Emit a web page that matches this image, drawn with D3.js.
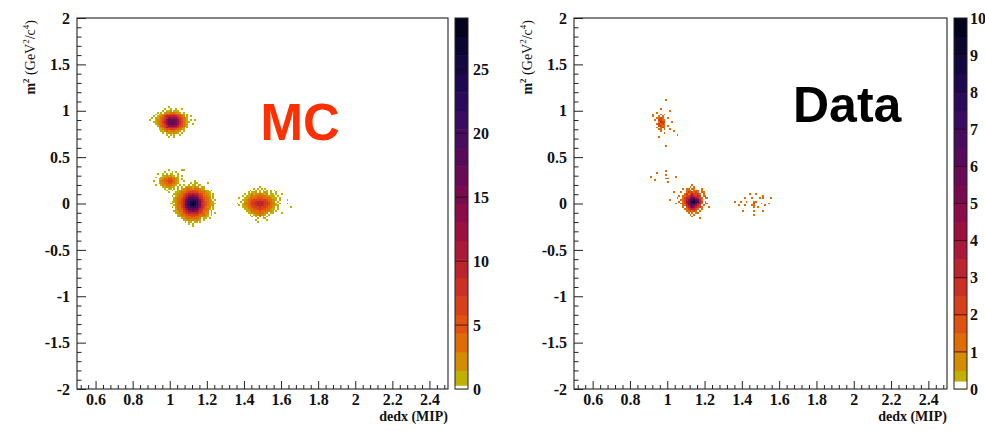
<!DOCTYPE html>
<html>
<head>
<meta charset="utf-8">
<script src="https://cdn.jsdelivr.net/npm/d3@7"></script>
<style>
body { margin: 0; background: #fff; }
svg { display: block; }
</style>
</head>
<body>
<script>
// axis ticks
var xTicks = [0.6, 0.8, 1, 1.2, 1.4, 1.6, 1.8, 2, 2.2, 2.4];
var yTicks = [-2, -1.5, -1, -0.5, 0, 0.5, 1, 1.5, 2];
var mcZTicks = [0, 5, 10, 15, 20, 25];
var dataZTicks = [0, 1, 2, 3, 4, 5, 6, 7, 8, 9, 10];
var mcZMax = 29;
var dataZMax = 10;

// bin size: dedx (MIP) x m2 (GeV2/c4)
var binW = 0.01, binH = 0.02;

// counts per bin, one char per bin (base 36, "." = empty), rows top -> bottom
// origin = [dedx of first column, m2 of top edge of first row]
var mcProtonOrigin = [0.89, 1.05];
var mcProtonRows = [
    "..... ..... 1.... ..... .....",
    "..... ...1. .1..1 ..1.. .....",
    "..... ..1.1 12.11 1.... .....",
    "....1 .1.22 23432 21.1. .....",
    "...1. 11245 56665 4321. 1....",
    "..1.1 12469 9a9a9 7532. 1.1..",
    ".1.11 2357a cdddc a7532 1....",
    "1..12 2358c ghhgf c8532 1.1.1",
    "..112 3469d hhjgf d9642 11...",
    "...12 2358c fgigf c8532 1..1.",
    "....1 2357a cdedc a7532 1....",
    "..... 12469 99a99 7532. 1....",
    "..... 11245 56665 4321. .....",
    "..... .1123 24342 21.1. .....",
    "..... ..1.1 22122 1.1.. .....",
    "..... ....1 .1.1. .1... .....",
    "..... ..... 1..1. ..... ....."
];
var mcKaonOrigin = [0.91, 0.37];
var mcKaonRows = [
    "..... ...1. ..... 11.",
    "..... .1... 1.1.. ...",
    "..1.. 1.1.1 1..1. ...",
    "..... 11212 11.1. 1..",
    ".1..1 12233 2211. ...",
    "...11 23455 4321. 1..",
    "1..12 34566 5321. .1.",
    "...12 23455 4321. ...",
    ".1..1 22343 221.1 ...",
    "..... 11222 11.1. ...",
    "..... .1.11 .1... ...",
    "..... ..1.. 1.... ...",
    "..... ...1. ..... ..."
];
var mcPionOrigin = [1.00, 0.25];
var mcPionRows = [
    "..... ..... ...1. ..... .....",
    "..... ..... .1.11 ..... 1....",
    "..... ..1.. 1.11. 11... .....",
    "..... .1.12 22122 2.11. .....",
    "....1 .1223 33243 3221. .....",
    "....1 12234 45654 43221 1.1..",
    "...11 23345 67776 54332 11...",
    "..112 23568 9aba9 86532 21.1.",
    ".1.12 3468a cefec a8643 21.1.",
    "..123 458ad ghihg da854 32.1.",
    "..123 469cg jlmlj gc964 321.1",
    ".1123 57aeh lpqpl hea75 3211.",
    "11.23 57aei mqtqm iea75 32111",
    "..123 47afh lpspl hfa75 3212.",
    ".1.23 479cg jlnlj gc964 22.1.",
    "...13 358ad ghihg da854 31.1.",
    "..112 3469a cefec a8643 2.1..",
    "...12 23568 9aaa9 86532 2.1.1",
    "....1 23345 67776 54332 1.1..",
    "....1 12234 45554 43221 1....",
    "..... .1223 33333 32.11 .1...",
    "..... ..112 22222 21.1. .....",
    "..... ...1. 11.11 .1... .....",
    "..... ..... 1.1.. ..... .....",
    "..... ..... ..1.. ..... ....."
];
var mcElectronOrigin = [1.36, 0.19];
var mcElectronRows = [
    "..... ..... ..1.. ..... ..... .....",
    "..... ....1 .1.1. 1.... ..... .....",
    "..... ..1.. 1.1.1 .1.1. 1.... .....",
    "..... .1.11 2.1.1 21.1. .1... .....",
    "....1 .1121 22322 12.11 .1..1 .....",
    "...1. 11232 34343 32211 1.1.. .....",
    ".1..1 12334 45554 43321 11.1. .....",
    "...11 23456 67776 65432 21.1. ..1..",
    "..1.2 23567 89998 76532 2.1.. .....",
    "1..12 34678 9aaa9 87643 21.1. ..1..",
    ".1.12 23567 89a98 76542 211.. .....",
    "...11 23456 67876 65432 1.1.. ....1",
    "....1 12345 56665 54321 1.1.. .....",
    "..... 11233 44544 33221 .1... .....",
    "..... .1122 33433 22.11 ....1 .....",
    "..... ..1.1 22322 1.1.. ..... .....",
    "..... ...1. 1.2.1 .1... ..... .....",
    "..... ..... .1..1 1.... ..... .....",
    "..... ..... 1.... .1... ..... .....",
    "..... ..... .1... ..... ..... ....."
];

var dataProtonOrigin = [0.90, 1.13];
var dataProtonRows = [
    "..... ....1 ..... ..",
    "..... ..... ..... ..",
    "..... ..... ..... ..",
    "..... ..... ..... ..",
    "..... ..... ..... ..",
    "..... .1... ..... ..",
    "..... ..... .1... ..",
    "....1 ..... ..... ..",
    "..1.. .1.1. ..... ..",
    "..1.. 1.1.. ..... ..",
    "....1 121.. 1.... ..",
    "...1. 2211. ..... ..",
    "..... 1322. ..1.. ..",
    "....1 2121. ..... ..",
    "..... 2211. 1.... ..",
    "....1 .121. ..... ..",
    "..... 11.1. .1... ..",
    "..... .1... ...1. ..",
    "..... ...1. ..... ..",
    "..... ..... ..... 1.",
    "..... 1.... ..... ..",
    "..... ..... ..... ..",
    "..... ..... ..... ..",
    "..... ..... ..... ..",
    "..... ..... ..... ..",
    "..... ....1 ..... .."
];
var dataKaonOrigin = [0.91, 0.36];
var dataKaonRows = [
    "..... ...1. ....",
    "...1. ..... ....",
    "..... ...1. ....",
    "1.... ..... ...1",
    "..... ...11 ....",
    "..1.. ..... ....",
    "..... ....1 ...."
];
var dataPionOrigin = [1.01, 0.21];
var dataPionRows = [
    "..... ..... ..1.. ..... ...",
    "..... ..... .1.1. ..... ...",
    "..... ..1.1 1.11. ..1.. ...",
    "..... ....1 12.11 1.1.. ...",
    "..1.. .1..1 21212 1.11. ...",
    "..... ...12 12322 21.1. ...",
    "..... 1.112 23432 32.11 ...",
    "....1 ..123 35554 321.1 1..",
    "1.... .1123 46786 531.. ...",
    "..... 1.124 579a7 632.1 ...",
    "...1. .1123 56786 431.1 1..",
    "..... ..113 45654 32.1. ...",
    "..... ..1.2 34543 221.. .1.",
    "..... ...11 23332 1.1.. ...",
    "..... ....1 12121 .1... ...",
    "..... ..... 1.1.1 1.... ...",
    "..... ..... .1.1. ..... ...",
    "..... ..... ..1.. ..... ...",
    "..... ..... ..... .1... ..."
];
var dataElectronOrigin = [1.36, 0.11];
var dataElectronRows = [
    "..... ...1. .1... .....",
    "..... ..... ..... 1....",
    "..... 1...1 ...1. 1...1",
    "..... ..... ..... .....",
    "1..1. .1... 11... .....",
    "..... ..... 2...1 ...1.",
    "..1.. 1...1 1.... .1...",
    "..... ..... 1.1.. .....",
    "..... ..... ..... .....",
    "....1 ..... 1.... 1....",
    "..... ..... ..... .....",
    "..... ..... 1.... ....."
];

var mcClusters = [
    [mcProtonOrigin, mcProtonRows],
    [mcKaonOrigin, mcKaonRows],
    [mcPionOrigin, mcPionRows],
    [mcElectronOrigin, mcElectronRows]
];
var dataClusters = [
    [dataProtonOrigin, dataProtonRows],
    [dataKaonOrigin, dataKaonRows],
    [dataPionOrigin, dataPionRows],
    [dataElectronOrigin, dataElectronRows]
];

// palette (inverted inferno-like, as in the z bars)
var palStops = [0, 0.05, 0.10, 0.15, 0.20, 0.25, 0.30, 0.35, 0.40, 0.45, 0.50,
    0.55, 0.60, 0.65, 0.70, 0.75, 0.80, 0.85, 0.90, 0.95, 1.0];
var palColors = ["#c2b200", "#c2b000", "#d48c00", "#e06c04", "#e05210", "#d8401a",
    "#cc3024", "#bc242e", "#ac1838", "#9c1040", "#8a0c48", "#780a50", "#680a56",
    "#580a5a", "#480c5e", "#380c60", "#2a0a5a", "#1e0850", "#140842", "#0a0630", "#03041c"];
var palette = d3.scaleLinear().domain(palStops).range(palColors).clamp(true);
var nContours = 20;

function binColor(z, zMax) {
    var k = Math.min(nContours - 1, Math.floor(0.01 + z * nContours / zMax));
    return palette((k + 0.99) / nContours);
}

var fmt = function (d) { return String(+d.toFixed(2)); };
var serif = "'Liberation Serif', 'Times New Roman', serif";

var svg = d3.select("body")
    .append("svg")
    .attr("width", 985)
    .attr("height", 431);

function drawPanel(p) {
    var x = d3.scaleLinear().domain([0.5, 2.5]).range([p.left, p.right]);
    var y = d3.scaleLinear().domain([-2, 2]).range([p.bottom, p.top]);
    var z = d3.scaleLinear().domain([0, p.zMax]).range([p.bottom, p.top]);
    var g = svg.append("g");

    // flatten the bins
    var bins = [];
    p.clusters.forEach(function (cl) {
        var x0 = cl[0][0], yTop = cl[0][1];
        cl[1].forEach(function (row, j) {
            row.replace(/ /g, "").split("").forEach(function (ch, i) {
                if (ch === ".") return;
                bins.push({
                    x: x0 + i * binW,
                    y: yTop - (j + 1) * binH,
                    z: parseInt(ch, 36)
                });
            });
        });
    });

    g.append("g").selectAll("rect")
        .data(bins)
        .enter()
        .append("rect")
        .attr("x", function (d) { return x(d.x); })
        .attr("y", function (d) { return y(d.y + binH); })
        .attr("width", function (d) { return x(d.x + binW) - x(d.x); })
        .attr("height", function (d) { return y(d.y) - y(d.y + binH); })
        .attr("fill", function (d) { return binColor(d.z, p.zMax); })
        .attr("shape-rendering", "crispEdges");

    // minor ticks
    var xMinor = d3.range(13, 63).map(function (i) { return i * 0.04; })
        .filter(function (v) { return Math.abs(v / 0.2 - Math.round(v / 0.2)) > 1e-6; });
    var yMinor = d3.range(-20, 21).map(function (i) { return i / 10; })
        .filter(function (v) { return Math.abs(v / 0.5 - Math.round(v / 0.5)) > 1e-6; });

    function styleAxis(sel) {
        sel.select(".domain").remove();
        sel.selectAll("line").attr("stroke", "#222");
        sel.selectAll("text")
            .attr("font-family", serif)
            .attr("font-weight", "bold")
            .attr("font-size", "16px")
            .attr("fill", "#111");
    }

    g.append("g")
        .attr("transform", "translate(0," + p.bottom + ")")
        .call(d3.axisBottom(x).tickValues(xMinor).tickSize(-4).tickFormat(""))
        .call(styleAxis);
    g.append("g")
        .attr("transform", "translate(0," + p.bottom + ")")
        .call(d3.axisBottom(x).tickValues(xTicks).tickSize(-8).tickPadding(5).tickFormat(fmt))
        .call(styleAxis);
    g.append("g")
        .attr("transform", "translate(" + p.left + ",0)")
        .call(d3.axisLeft(y).tickValues(yMinor).tickSize(-4.5).tickFormat(""))
        .call(styleAxis);
    g.append("g")
        .attr("transform", "translate(" + p.left + ",0)")
        .call(d3.axisLeft(y).tickValues(yTicks).tickSize(-9).tickPadding(7).tickFormat(fmt))
        .call(styleAxis);

    // frame
    g.append("rect")
        .attr("x", p.left)
        .attr("y", p.top)
        .attr("width", p.right - p.left)
        .attr("height", p.bottom - p.top)
        .attr("fill", "none")
        .attr("stroke", "#222")
        .attr("stroke-width", 1.1);

    // z palette bar
    var bw = p.barRight - p.barLeft;
    g.append("g").selectAll("rect")
        .data(d3.range(nContours))
        .enter()
        .append("rect")
        .attr("x", p.barLeft)
        .attr("y", function (k) { return z((k + 1) * p.zMax / nContours); })
        .attr("width", bw)
        .attr("height", function (k) { return z(k * p.zMax / nContours) - z((k + 1) * p.zMax / nContours) + 0.5; })
        .attr("fill", function (k) { return palette((k + 0.99) / nContours); });
    g.append("rect")
        .attr("x", p.barLeft)
        .attr("y", z(p.whiteZ))
        .attr("width", bw)
        .attr("height", p.bottom - z(p.whiteZ))
        .attr("fill", "#fff");
    g.append("g").selectAll("line")
        .data(p.zTicks.filter(function (v) { return v > 0 && v < p.zMax; }))
        .enter()
        .append("line")
        .attr("x1", p.barLeft)
        .attr("x2", p.barRight)
        .attr("y1", function (v) { return z(v); })
        .attr("y2", function (v) { return z(v); })
        .attr("stroke", "#2a0008")
        .attr("stroke-opacity", 0.75)
        .attr("stroke-width", 1);
    g.append("rect")
        .attr("x", p.barLeft)
        .attr("y", p.top)
        .attr("width", bw)
        .attr("height", p.bottom - p.top)
        .attr("fill", "none")
        .attr("stroke", "#222")
        .attr("stroke-width", 1);
    g.append("g").selectAll("text")
        .data(p.zTicks)
        .enter()
        .append("text")
        .text(fmt)
        .attr("x", p.barRight + p.labelGap)
        .attr("y", function (v) { return z(v); })
        .attr("dy", "0.35em")
        .attr("font-family", serif)
        .attr("font-weight", "bold")
        .attr("font-size", "16px")
        .attr("fill", "#111");

    // axis titles
    g.append("text")
        .text("dedx (MIP)")
        .attr("x", p.right)
        .attr("y", p.bottom + 32)
        .attr("text-anchor", "end")
        .attr("font-family", serif)
        .attr("font-weight", "bold")
        .attr("font-size", "14px")
        .attr("fill", "#111");

    var yt = g.append("text")
        .attr("transform", "translate(" + (p.left - 42) + "," + (p.top + 2) + ") rotate(-90)")
        .attr("text-anchor", "end")
        .attr("font-family", serif)
        .attr("font-size", "14px")
        .attr("fill", "#111");
    yt.append("tspan").attr("font-weight", "bold").text("m");
    yt.append("tspan").attr("font-weight", "bold").attr("font-size", "9px").attr("dy", -6).text("2");
    yt.append("tspan").attr("dy", 6).text(" (GeV");
    yt.append("tspan").attr("font-size", "9px").attr("dy", -6).text("2");
    yt.append("tspan").attr("dy", 6).text("/c");
    yt.append("tspan").attr("font-size", "9px").attr("dy", -6).text("4");
    yt.append("tspan").attr("dy", 6).text(")");

    // big tag
    g.append("text")
        .text(p.tag)
        .attr("x", p.tagX)
        .attr("y", p.tagY)
        .attr("font-family", "'Liberation Sans', Arial, sans-serif")
        .attr("font-weight", "bold")
        .attr("font-size", p.tagSize + "px")
        .attr("fill", p.tagColor);
}

drawPanel({
    left: 77, right: 448, top: 18, bottom: 389,
    barLeft: 455, barRight: 468, labelGap: 5,
    zMax: mcZMax, zTicks: mcZTicks, whiteZ: 0.25,
    clusters: mcClusters,
    tag: "MC", tagX: 260.5, tagY: 140, tagSize: 51, tagColor: "#ff3000"
});
drawPanel({
    left: 574, right: 947, top: 18, bottom: 389,
    barLeft: 954, barRight: 967, labelGap: 3,
    zMax: dataZMax, zTicks: dataZTicks, whiteZ: 0.2,
    clusters: dataClusters,
    tag: "Data", tagX: 793, tagY: 122, tagSize: 50, tagColor: "#000"
});
</script>
</body>
</html>
